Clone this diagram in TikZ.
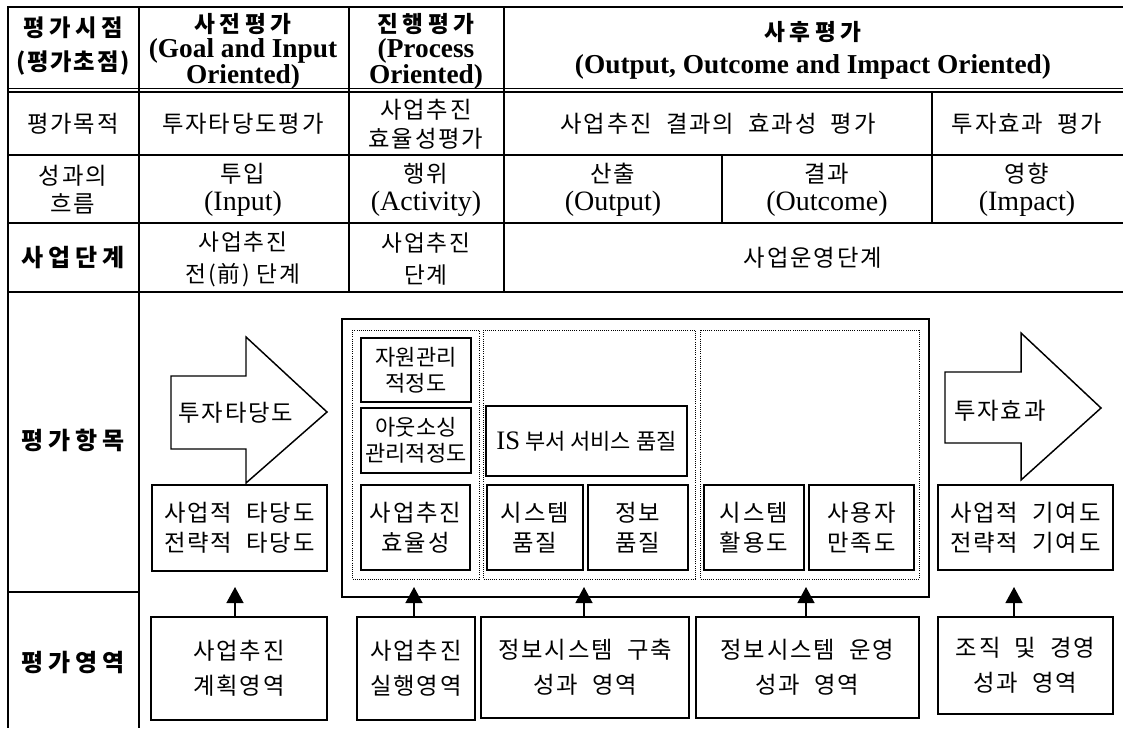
\documentclass[tikz,border=0pt]{standalone}
\usepackage{fontspec}
\setmainfont{Liberation Serif}
\newfontfamily\lat{Liberation Serif}
\newfontfamily\kr[LetterSpace=8]{Noto Sans CJK KR}
\newfontfamily\krh[LetterSpace=20]{Noto Sans CJK KR}
\newfontfamily\krt{Noto Sans CJK KR}
\usetikzlibrary{arrows.meta}
\newcommand\en[1]{{\lat\fontsize{21}{21}\selectfont #1}}
\newcommand\enb[1]{{\lat\bfseries\fontsize{20.5}{19}\selectfont #1}}
\newcommand\mybox[7][]{%
  \node[bx,#1,minimum width={(#5-#3)*0.75pt},minimum height={(#6-#4)*0.75pt}] (#2) at ({(#3+#5)/2},{(#4+#6)/2}) {#7};}
\tikzset{
  tl/.style={line width=1.3pt},
  tlthick/.style={line width=2.2pt},
  bx/.style={draw, line width=1.1pt, inner sep=0pt, outer sep=0pt, align=center, font=\kr\fontsize{17.5}{22.5}\selectfont},
  txt/.style={inner sep=0pt, align=center, font=\kr\fontsize{17.5}{22.5}\selectfont},
  tight/.style={font=\krt\fontsize{16.5}{19.5}\selectfont},
  hd/.style={inner sep=0pt, align=center, font=\krh\bfseries\fontsize{17}{19}\selectfont},
  lab/.style={inner sep=0pt, align=center, font=\krh\bfseries\fontsize{18}{19}\selectfont},
  dotbox/.style={densely dotted, line width=0.6pt},
  blockarrow/.style={draw, line width=1.1pt},
  upar/.style={line width=1pt, -{Triangle[width=12.75pt,length=12pt]}},
}
\begin{document}
\begin{tikzpicture}[x=0.75pt,y=-0.75pt]
\useasboundingbox (0,0) rectangle (1123,728);
% ---- table grid
\draw[tlthick] (7,7) -- (1123,7);
\draw[tlthick] (8,6) -- (8,728);
\draw[tl] (7,88.5) -- (1123,88.5);
\draw[tl] (7,92) -- (1123,92);
\draw[tl] (7,155) -- (1123,155);
\draw[tl] (7,223) -- (1123,223);
\draw[tl] (7,292) -- (1123,292);
\draw[tl] (7,592) -- (139,592);
\draw[tl] (139,7) -- (139,728);
\draw[tl] (349,7) -- (349,292);
\draw[tl] (504,7) -- (504,292);
\draw[tl] (722,155) -- (722,223);
\draw[tl] (932,92) -- (932,223);
% ---- header row
\node[lab, font=\krh\bfseries\fontsize{17.5}{26}\selectfont] (h1) at (73,46) {평가시점\\{\kr\bfseries (평가초점)}};
\node[hd] (h2) at (243,51) {사전평가\\\enb{(Goal and Input}\\\enb{Oriented)}};
\node[hd] (h3) at (426,51) {진행평가\\\enb{(Process}\\\enb{Oriented)}};
\node[hd, font=\krh\bfseries\fontsize{17}{25}\selectfont] (h4) at (813,50) {사후평가\\\enb{(Output, Outcome and Impact Oriented)}};
% ---- row 2
\node[txt] (r2a) at (73,124) {평가목적};
\node[txt] (r2b) at (243,124) {투자타당도평가};
\node[txt, font=\kr\fontsize{17.5}{21.5}\selectfont] (r2c) at (426,124) {사업추진\\효율성평가};
\node[txt] (r2d) at (718,124) {사업추진 \ 결과의 \ 효과성 \ 평가};
\node[txt] (r2e) at (1027,124) {투자효과 \ 평가};
% ---- row 3
\node[txt, font=\kr\fontsize{17.5}{21}\selectfont] (r3a) at (73,190) {성과의\\흐름};
\node[txt, font=\kr\fontsize{17.5}{21}\selectfont] (r3b) at (243,190) {투입\\\en{(Input)}};
\node[txt, font=\kr\fontsize{17.5}{21}\selectfont] (r3c) at (426,190) {행위\\\en{(Activity)}};
\node[txt, font=\kr\fontsize{17.5}{21}\selectfont] (r3d) at (613,190) {산출\\\en{(Output)}};
\node[txt, font=\kr\fontsize{17.5}{21}\selectfont] (r3e) at (827,190) {결과\\\en{(Outcome)}};
\node[txt, font=\kr\fontsize{17.5}{21}\selectfont] (r3f) at (1027,190) {영향\\\en{(Impact)}};
% ---- row 4
\node[lab] (r4a) at (73,258) {사업단계};
\node[txt, font=\kr\fontsize{17}{24}\selectfont] (r4b) at (243,259) {사업추진\\전(前) 단계};
\node[txt, font=\kr\fontsize{17}{24}\selectfont] (r4c) at (426,259) {사업추진\\단계};
\node[txt] (r4d) at (813,258) {사업운영단계};
% ---- row labels
\node[lab] (r5a) at (73,440) {평가항목};
\node[lab] (r6a) at (73,663) {평가영역};
% ---- block arrows
\draw[blockarrow] (171,376) -- (246,376) -- (246,337) -- (327,412) -- (246,483) -- (246,449) -- (171,449) -- cycle;
\node[txt] (a1) at (236,413) {투자타당도};
\draw[blockarrow] (945,372) -- (1021,372) -- (1021,333) -- (1101,408) -- (1021,480) -- (1021,443) -- (945,443) -- cycle;
\node[txt] (a2) at (1000,411) {투자효과};
% ---- panel and dotted groups
\mybox{panel}{342}{319}{929}{597}{}
\draw[dotbox] (352,330) rectangle (479,579);
\draw[dotbox] (483,330) rectangle (695,579);
\draw[dotbox] (700,330) rectangle (919,579);
% ---- inner boxes
\mybox[tight]{b11}{361}{338}{471}{402}{자원관리\\적정도}
\mybox[tight]{b12}{361}{408}{471}{473}{아웃소싱\\관리적정도}
\mybox{b13}{361}{485}{470}{570}{사업추진\\효율성}
\mybox[tight]{b21}{486}{406}{687}{476}{{\lat\fontsize{20}{19}\selectfont IS} 부서 서비스 품질}
\mybox{b22}{487}{485}{583}{570}{시스템\\품질}
\mybox{b23}{588}{485}{688}{570}{정보\\품질}
\mybox{b31}{704}{485}{804}{570}{시스템\\활용도}
\mybox{b32}{809}{485}{914}{570}{사용자\\만족도}
\mybox{lft}{152}{485}{327}{571}{사업적 \ 타당도\\전략적 \ 타당도}
\mybox{rgt}{938}{485}{1113}{570}{사업적 \ 기여도\\전략적 \ 기여도}
% ---- bottom boxes
\mybox[font=\kr\fontsize{17.5}{26}\selectfont]{d1}{151}{617}{327}{720}{사업추진\\계획영역}
\mybox[font=\kr\fontsize{17.5}{26}\selectfont]{d2}{357}{617}{475}{720}{사업추진\\실행영역}
\mybox[font=\kr\fontsize{17.5}{26}\selectfont]{d3}{481}{617}{689}{718}{정보시스템 \ 구축\\성과 \ 영역}
\mybox[font=\kr\fontsize{17.5}{26}\selectfont]{d4}{696}{617}{919}{718}{정보시스템 \ 운영\\성과 \ 영역}
\mybox[font=\kr\fontsize{17.5}{26}\selectfont]{d5}{938}{617}{1113}{714}{조직 \ 및 \ 경영\\성과 \ 영역}
% ---- up arrows
\coordinate (t1) at (235,587);
\coordinate (t2) at (414,587);
\coordinate (t3) at (584,587);
\coordinate (t4) at (806,587);
\coordinate (t5) at (1014,587);
\draw[upar] (d1.north -| t1) -- (t1);
\draw[upar] (d2.north -| t2) -- (t2);
\draw[upar] (d3.north -| t3) -- (t3);
\draw[upar] (d4.north -| t4) -- (t4);
\draw[upar] (d5.north -| t5) -- (t5);
\end{tikzpicture}
\end{document}
